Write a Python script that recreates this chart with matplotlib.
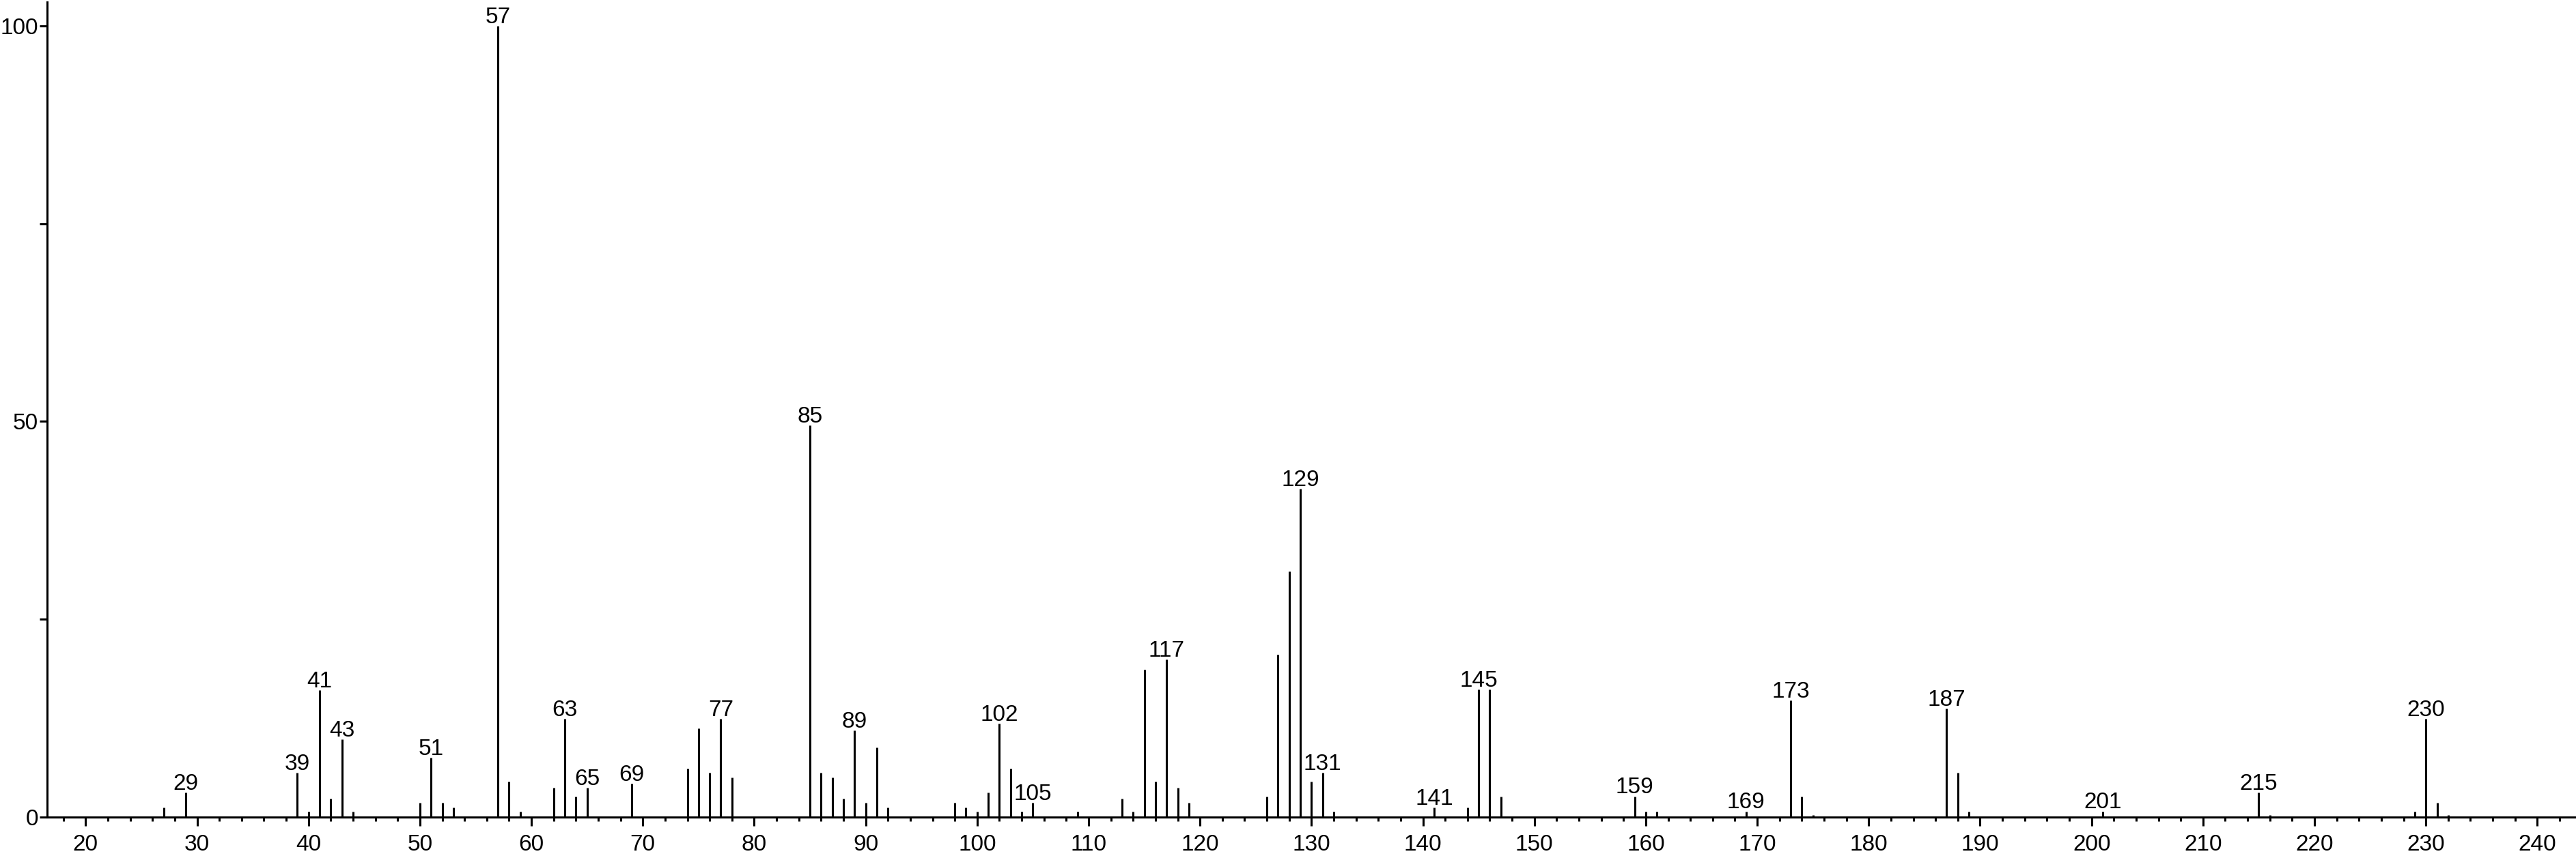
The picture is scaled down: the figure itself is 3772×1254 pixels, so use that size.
import matplotlib
matplotlib.use("Agg")
import matplotlib.pyplot as plt
from matplotlib.ticker import MultipleLocator

# mass spectrum: m/z and relative intensity
mz = [27, 29, 39, 40, 41, 42, 43, 44, 50, 51, 52, 53, 57, 58, 59, 62, 63, 64, 65, 69,
      74, 75, 76, 77, 78, 85, 86, 87, 88, 89, 90, 91, 92, 98, 99, 100, 101, 102, 103,
      104, 105, 109, 113, 114, 115, 116, 117, 118, 119, 126, 127, 128, 129, 130, 131,
      132, 141, 144, 145, 146, 147, 159, 160, 161, 169, 173, 174, 175, 187, 188, 189,
      201, 215, 216, 229, 230, 231, 232]
intensity = [1.2, 3.1, 5.6, 0.7, 16.0, 2.3, 9.8, 0.7, 1.8, 7.5, 1.8, 1.2, 100.0, 4.5, 0.7,
             3.7, 12.4, 2.6, 3.7, 4.2, 6.1, 11.2, 5.6, 12.4, 5.0, 49.5, 5.6, 5.0, 2.3, 10.9,
             1.8, 8.8, 1.2, 1.8, 1.2, 0.7, 3.1, 11.8, 6.1, 0.7, 1.8, 0.7, 2.3, 0.7, 18.6,
             4.5, 19.9, 3.7, 1.8, 2.6, 20.5, 31.0, 41.5, 4.5, 5.6, 0.7, 1.2, 1.2, 16.1,
             16.1, 2.6, 2.6, 0.7, 0.7, 0.7, 14.7, 2.6, 0.2, 13.7, 5.6, 0.7, 0.7, 3.1, 0.2,
             0.7, 12.4, 1.8, 0.2]
labelled = [29, 39, 41, 43, 51, 57, 63, 65, 69, 77, 85, 89, 102, 105, 117, 129, 131,
            141, 145, 159, 169, 173, 187, 201, 215, 230]

plt.rcParams["font.family"] = ["Liberation Sans", "DejaVu Sans"]

fig = plt.figure(figsize=(37.72, 12.54), dpi=100)
ax = fig.add_axes([0.0183, 0.0457, 0.9817, 0.9519])

ax.vlines(mz, 0, intensity, color="black", lw=2.2)
for m, v in zip(mz, intensity):
    if m in labelled:
        ax.annotate(str(m), (m, v), xytext=(0, 3), textcoords="offset points",
                    ha="center", va="baseline", fontsize=24)

ax.set_xlim(16.55, 243.47)
ax.set_ylim(0, 103.0)
ax.xaxis.set_major_locator(MultipleLocator(10))
ax.xaxis.set_minor_locator(MultipleLocator(2))
ax.yaxis.set_major_locator(MultipleLocator(50))
ax.yaxis.set_minor_locator(MultipleLocator(25))

for s in ["top", "right"]:
    ax.spines[s].set_visible(False)
for s in ["left", "bottom"]:
    ax.spines[s].set_linewidth(2.2)

ax.tick_params(axis="x", which="major", length=9, width=2.2, labelsize=24, pad=9)
ax.tick_params(axis="x", which="minor", length=4.5, width=2.2)
ax.tick_params(axis="y", which="major", length=8, width=2.2, labelsize=24, pad=1.5)
ax.tick_params(axis="y", which="minor", length=8, width=2.2)

fig.savefig("out.png", dpi=100)
